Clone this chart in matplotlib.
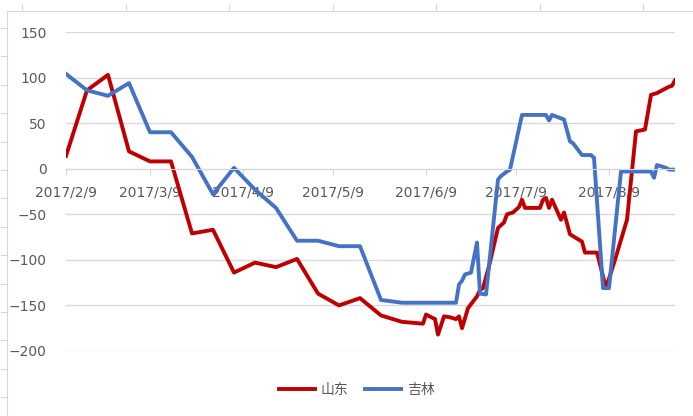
import pandas as pd
import matplotlib.pyplot as plt
import matplotlib.dates as mdates
from matplotlib.ticker import FuncFormatter

plt.rcParams['font.family'] = ['DejaVu Sans', 'Noto Sans CJK SC']

# 山东
shandong_dates = ['2017-02-09', '2017-02-16', '2017-02-23', '2017-03-02', '2017-03-09',
                  '2017-03-16', '2017-03-23', '2017-03-30', '2017-04-06', '2017-04-13',
                  '2017-04-20', '2017-04-27', '2017-05-04', '2017-05-11', '2017-05-18',
                  '2017-05-25', '2017-06-01', '2017-06-08', '2017-06-09', '2017-06-12',
                  '2017-06-13', '2017-06-15', '2017-06-17', '2017-06-19', '2017-06-20',
                  '2017-06-21', '2017-06-23', '2017-06-26', '2017-06-27', '2017-06-28',
                  '2017-06-30', '2017-07-03', '2017-07-05', '2017-07-06', '2017-07-08',
                  '2017-07-10', '2017-07-11', '2017-07-12', '2017-07-17', '2017-07-18',
                  '2017-07-19', '2017-07-20', '2017-07-21', '2017-07-24', '2017-07-25',
                  '2017-07-27', '2017-07-31', '2017-08-01', '2017-08-05', '2017-08-08',
                  '2017-08-11', '2017-08-15', '2017-08-18', '2017-08-21', '2017-08-23',
                  '2017-08-25', '2017-08-29', '2017-08-30', '2017-08-31']
shandong_values = [14, 86, 103, 19, 8, 8, -71, -67, -114, -103,
                   -108, -99, -137, -150, -142, -161, -168, -170, -160, -165,
                   -182, -162, -163, -165, -162, -175, -153, -140, -133, -131,
                   -107, -65, -59, -50, -48, -42, -34, -43, -43, -34,
                   -32, -43, -34, -56, -48, -72, -80, -92, -92, -131,
                   -100, -56, 41, 43, 81, 83, 90, 91, 97]

# 吉林
jilin_dates = ['2017-02-09', '2017-02-16', '2017-02-23', '2017-03-02', '2017-03-09',
               '2017-03-16', '2017-03-23', '2017-03-30', '2017-04-06', '2017-04-13',
               '2017-04-20', '2017-04-27', '2017-05-04', '2017-05-11', '2017-05-18',
               '2017-05-25', '2017-06-01', '2017-06-08', '2017-06-15', '2017-06-19',
               '2017-06-20', '2017-06-21', '2017-06-22', '2017-06-24', '2017-06-26',
               '2017-06-27', '2017-06-29', '2017-07-03', '2017-07-04', '2017-07-06',
               '2017-07-07', '2017-07-11', '2017-07-19', '2017-07-20', '2017-07-21',
               '2017-07-25', '2017-07-27', '2017-07-28', '2017-07-31', '2017-08-03',
               '2017-08-04', '2017-08-07', '2017-08-09', '2017-08-13', '2017-08-23',
               '2017-08-24', '2017-08-25', '2017-08-28', '2017-08-29', '2017-08-31']
jilin_values = [104, 86, 80, 94, 40, 40, 13, -28, 1, -23,
                -43, -79, -79, -85, -85, -144, -147, -147, -147, -147,
                -127, -123, -116, -114, -81, -137, -138, -12, -8, -3,
                -1, 59, 59, 53, 59, 54, 30, 28, 15, 15,
                12, -131, -131, -3, -3, -10, 4, 1, -1, -1]

sd = pd.Series(shandong_values, index=pd.to_datetime(shandong_dates))
jl = pd.Series(jilin_values, index=pd.to_datetime(jilin_dates))

grey = '#D9D9D9'
text_grey = '#595959'

fig = plt.figure(figsize=(6.93, 4.16), dpi=100)

# outer sheet frame (top and left rulers)
frame = fig.add_axes([7 / 693, 0, 686 / 693, 405 / 416])
frame.set_xlim(0, 686)
frame.set_ylim(405, 0)
frame.patch.set_visible(False)
for s in ['bottom', 'right']:
    frame.spines[s].set_visible(False)
for s in ['top', 'left']:
    frame.spines[s].set_color(grey)
frame.xaxis.tick_top()
frame.set_xticks([15 + 103.5 * k for k in range(7)])
frame.set_yticks([17 + 28.4 * k for k in range(14)])
frame.tick_params(length=5, color=grey, labeltop=False, labelleft=False, labelbottom=False)

ax = fig.add_axes([66 / 693, 1 - 351 / 416, 609 / 693, 319 / 416])
ax.plot(sd.index, sd.values, color='#C00000', lw=2.8, label='山东', solid_joinstyle='round')
ax.plot(jl.index, jl.values, color='#4472C4', lw=2.8, label='吉林', solid_joinstyle='round')

ax.set_xlim(pd.Timestamp('2017-02-09'), pd.Timestamp('2017-08-31'))
ax.set_ylim(-200, 150)
ax.set_yticks(range(-200, 151, 50))
ax.grid(axis='y', color=grey, lw=1)
ax.set_axisbelow(True)

ax.xaxis.set_major_locator(mdates.MonthLocator(bymonthday=9))
ax.xaxis.set_major_formatter(FuncFormatter(
    lambda v, p: '{0}/{1}/{2}'.format(mdates.num2date(v).year, mdates.num2date(v).month, mdates.num2date(v).day)))

for s in ['top', 'right', 'left']:
    ax.spines[s].set_visible(False)
ax.spines['bottom'].set_position(('data', 0))
ax.spines['bottom'].set_color(grey)
ax.tick_params(axis='x', length=4, color=grey, labelsize=10, labelcolor=text_grey, pad=8)
ax.tick_params(axis='y', length=0, labelsize=10, labelcolor=text_grey, pad=14)

fig.legend(loc='center', bbox_to_anchor=(0.515, 1 - 390 / 416), ncol=2, frameon=False,
           handlelength=2.6, columnspacing=1.2, handletextpad=0.4,
           prop={'family': ['Noto Sans CJK SC', 'DejaVu Sans'], 'size': 10},
           labelcolor=text_grey)

fig.savefig('out.png', dpi=100)
